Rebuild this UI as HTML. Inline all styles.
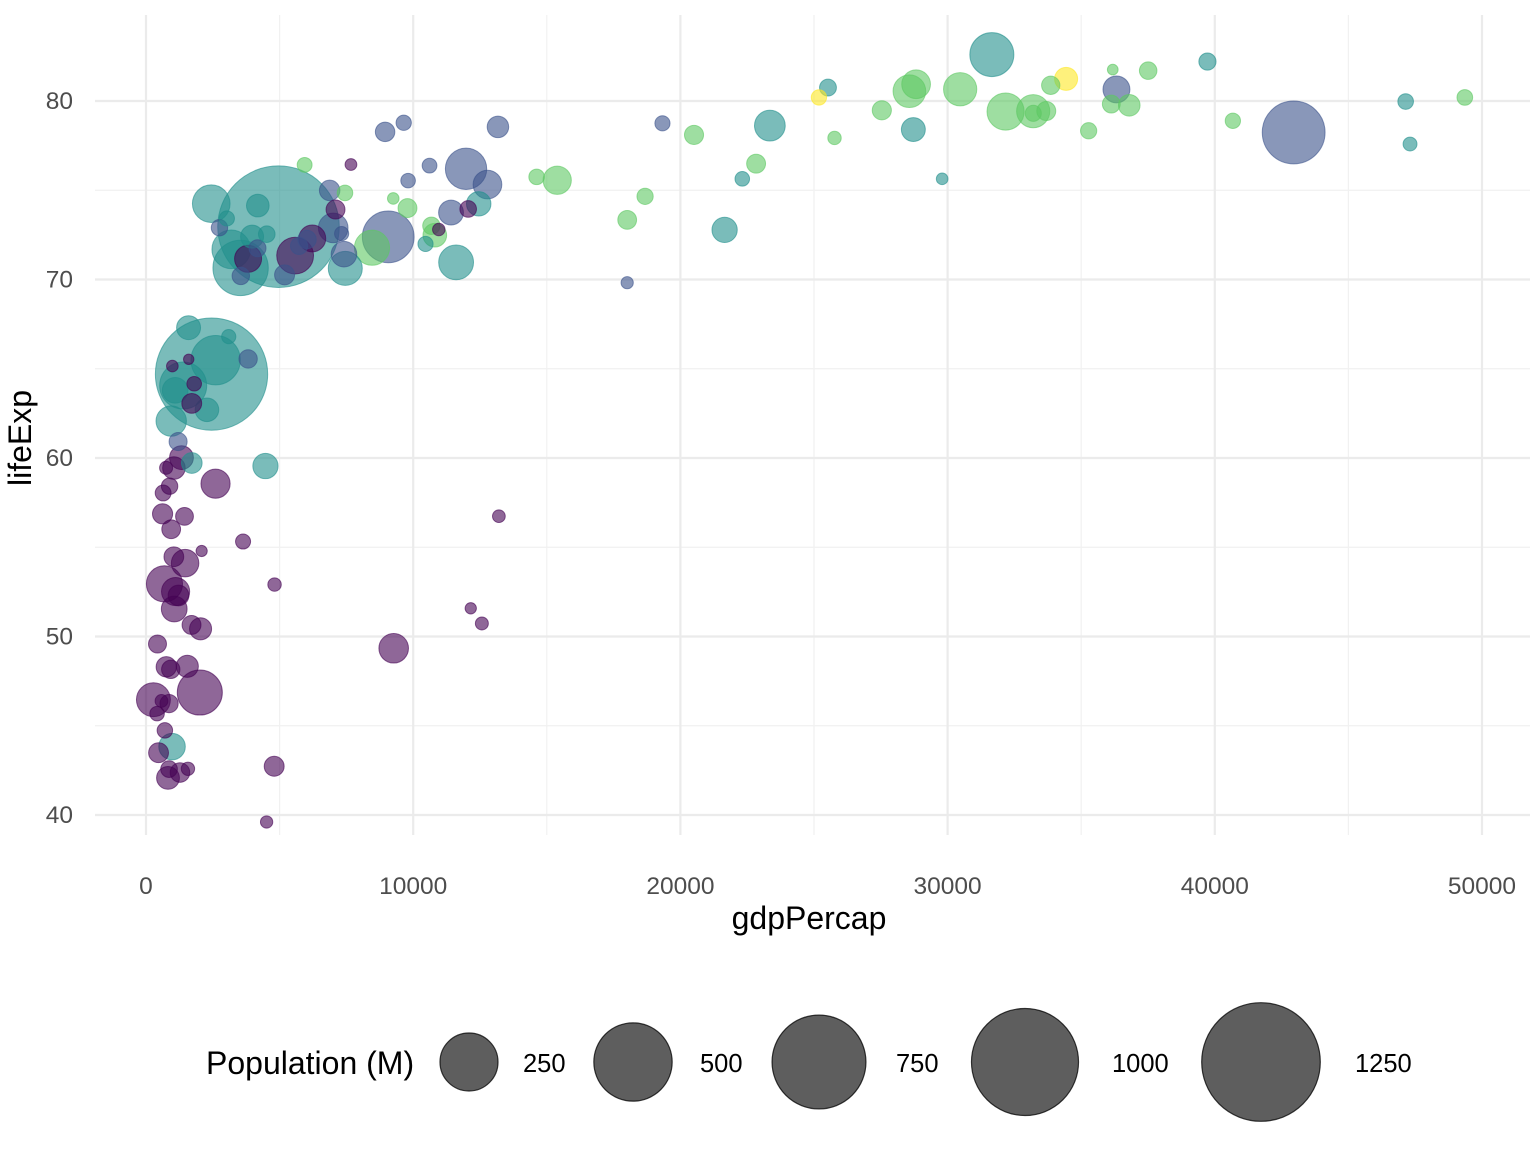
<!DOCTYPE html>
<html><head><meta charset="utf-8"><style>
body{margin:0;background:#fff;font-family:"Liberation Sans",sans-serif;}
svg text{font-family:"Liberation Sans",sans-serif;}
</style></head><body>
<svg id="chart" width="1532" height="1154" xmlns="http://www.w3.org/2000/svg">
<g id="grid"></g>
<g id="points"></g>
<g id="axes"></g>
<text x="809" y="929" font-size="32" text-anchor="middle" fill="#000">gdpPercap</text>
<text x="31" y="438" font-size="32" text-anchor="middle" fill="#000" transform="rotate(-90 31 438)">lifeExp</text>
<g id="legend">
<text x="206" y="1074" font-size="32" fill="#000">Population (M)</text>
</g>
</svg>
<script>
const continents=["Africa","Americas","Asia","Europe","Oceania"];
const colors=["#440154","#3B528B","#21908C","#5DC863","#FDE725"];
const xTicks=[0,10000,20000,30000,40000,50000];
const yTicks=[40,50,60,70,80];
const legendValues=[250,500,750,1000,1250];
// [gdpPercap, lifeExp, popM]
const africa=[[6223.4,72.3,33.33],[4797.2,42.73,12.42],[1441.3,56.73,8.08],[12569.9,50.73,1.64],[1217,52.3,14.33],[430.1,49.58,8.39],[2042.1,50.43,17.7],[706,44.74,4.37],[1704.1,50.65,10.24],[986.1,65.15,0.71],[277.6,46.46,64.61],[3632.6,55.32,3.8],[1544.8,48.33,18.01],[2082.5,54.79,0.5],[5581.2,71.34,80.26],[12154.1,51.58,0.55],[641.4,58.04,4.91],[690.8,52.95,76.51],[13206.5,56.74,1.45],[752.7,59.45,1.69],[1327.6,60.02,22.87],[942.7,56.01,9.95],[579.2,46.39,1.47],[1463.2,54.11,35.61],[1569.3,42.59,2.01],[414.5,45.68,3.19],[12057.5,73.95,6.04],[1044.8,59.44,19.17],[759.3,48.3,13.33],[1042.6,54.47,12.03],[1803.2,64.16,3.27],[10957,72.8,1.25],[3820.2,71.16,33.76],[823.7,42.08,19.95],[4811.1,52.91,2.06],[619.7,56.87,12.89],[2014,46.86,135.03],[7670.1,76.44,0.8],[863.1,46.24,8.86],[1598.4,65.53,0.2],[1712.5,63.06,12.27],[862.5,42.57,6.14],[926.1,48.16,9.12],[9269.7,49.34,43.99],[2602.4,58.56,42.29],[4513.5,39.61,1.13],[1107.5,52.52,38.14],[883,58.42,5.7],[7092.9,73.92,10.28],[1056.4,51.54,29.17],[1271.2,42.38,11.75],[469.7,43.49,12.31]];
const americas=[[12779.4,75.32,40.3],[3822.1,65.55,9.12],[9065.8,72.39,190.01],[36319.2,80.65,33.39],[13171.6,78.55,16.28],[7006.6,72.89,44.23],[9645.1,78.78,4.13],[8948.1,78.27,11.42],[6025.4,72.24,9.32],[6873.3,74.99,13.76],[5728.4,71.88,6.94],[5186.1,70.26,12.57],[1201.6,60.92,8.5],[3548.3,70.2,7.48],[7320.9,72.57,2.78],[11977.6,76.2,108.7],[2749.3,72.9,5.68],[9809.2,75.54,3.24],[4172.8,71.75,6.67],[7408.9,71.42,28.67],[19328.7,78.75,3.94],[18008.5,69.82,1.06],[42951.7,78.24,301.14],[10611.5,76.38,3.45],[11415.8,73.75,26.08]];
const asia=[[974.6,43.83,31.89],[29796,75.64,0.71],[1391.3,64.06,150.45],[1713.8,59.72,14.13],[4959.1,72.96,1318.68],[39725,82.21,6.98],[2452.2,64.7,1110.4],[3540.7,70.65,223.55],[11605.7,70.96,69.45],[4471.1,59.55,27.5],[25523.3,80.75,6.43],[31656.1,82.6,127.47],[4519.5,72.54,6.05],[1593.1,67.3,23.3],[23348.1,78.62,49.04],[47307,77.59,2.51],[10461.1,71.99,3.92],[12451.7,74.24,24.82],[3095.8,66.8,2.87],[944,62.07,47.76],[1091.4,63.79,28.9],[22316.2,75.64,3.2],[2605.9,65.48,169.27],[3190.5,71.69,91.08],[21654.8,72.78,27.6],[47143.2,79.97,4.55],[3970.1,72.4,20.38],[4184.5,74.14,19.31],[28718.3,78.4,23.17],[7458.4,70.62,65.07],[2441.6,74.25,85.26],[3025.3,73.42,4.02],[2280.8,62.7,22.21]];
const europe=[[5937,76.42,3.6],[36126.5,79.83,8.2],[33692.6,79.44,10.39],[7446.3,74.85,4.55],[10680.8,73.01,7.32],[14619.2,75.75,4.49],[22833.3,76.49,10.23],[35278.4,78.33,5.47],[33207.1,79.31,5.24],[30470,80.66,61.08],[32170.4,79.41,82.4],[27538.4,79.48,10.71],[18008.9,73.34,9.96],[36181,81.76,0.3],[40676,78.89,4.11],[28569.7,80.55,58.15],[9253.9,74.54,0.68],[36797.9,79.76,16.57],[49357.2,80.2,4.63],[15389.9,75.56,38.52],[20509.6,78.1,10.64],[10808.5,72.48,22.28],[9786.5,74,10.15],[18678.3,74.66,5.45],[25768.3,77.93,2.01],[28821.1,80.94,40.45],[33859.7,80.88,9.03],[37506.4,81.7,7.55],[8458.3,71.78,71.16],[33203.3,79.43,60.78]];
const oceania=[[34435.4,81.24,20.43],[25185,80.2,4.12]];

const NS="http://www.w3.org/2000/svg";
const xs=v=>146+v*(1336/50000);
const ys=v=>815-(v-40)*(714/40);
const rs=p=>4.5+1.55*Math.sqrt(p);
function mk(tag,attrs,parent){const e=document.createElementNS(NS,tag);for(const k in attrs)e.setAttribute(k,attrs[k]);parent.appendChild(e);return e;}
const grid=document.getElementById('grid'),axes=document.getElementById('axes'),pts=document.getElementById('points'),leg=document.getElementById('legend');
for(let v=5000;v<=50000;v+=10000){const l=mk('line',{x1:xs(v),x2:xs(v),y1:15,y2:835,stroke:'#f1f1f1','stroke-width':1.2},grid);

}
for(let v=45;v<=75;v+=10){const l=mk('line',{x1:95,x2:1530,y1:ys(v),y2:ys(v),stroke:'#f1f1f1','stroke-width':1.2},grid);

}
xTicks.forEach(v=>{const l=mk('line',{x1:xs(v),x2:xs(v),y1:15,y2:835,stroke:'#ebebeb','stroke-width':2.2},grid);


const t=mk('text',{x:xs(v),y:894,'font-size':24.5,'text-anchor':'middle',fill:'#4d4d4d'},axes);t.textContent=v;

});
yTicks.forEach(v=>{const l=mk('line',{x1:95,x2:1530,y1:ys(v),y2:ys(v),stroke:'#ebebeb','stroke-width':2.2},grid);


const t=mk('text',{x:73,y:ys(v)+8,'font-size':24.5,'text-anchor':'end',fill:'#4d4d4d'},axes);t.textContent=v;

});
const all=[];[africa,americas,asia,europe,oceania].forEach((arr,ci)=>arr.forEach(d=>all.push([d,ci])));
all.sort((a,b)=>b[0][2]-a[0][2]);
all.forEach(([d,ci])=>{const c=mk('circle',{cx:xs(d[0]),cy:ys(d[1]),r:rs(d[2]),fill:colors[ci],'fill-opacity':0.6,stroke:colors[ci],'stroke-opacity':0.6,'stroke-width':1},pts);

});
const lx=[469,633,819,1025,1261],tx=[523,700,896,1112,1355];
legendValues.forEach((v,i)=>{const c=mk('circle',{cx:lx[i],cy:1062,r:rs(v),fill:'#000','fill-opacity':0.63,stroke:'#000','stroke-opacity':0.75,'stroke-width':1.2},leg);


const t=mk('text',{x:tx[i],y:1072,'font-size':25.5,fill:'#000'},leg);t.textContent=v;

});
</script>
</body></html>
